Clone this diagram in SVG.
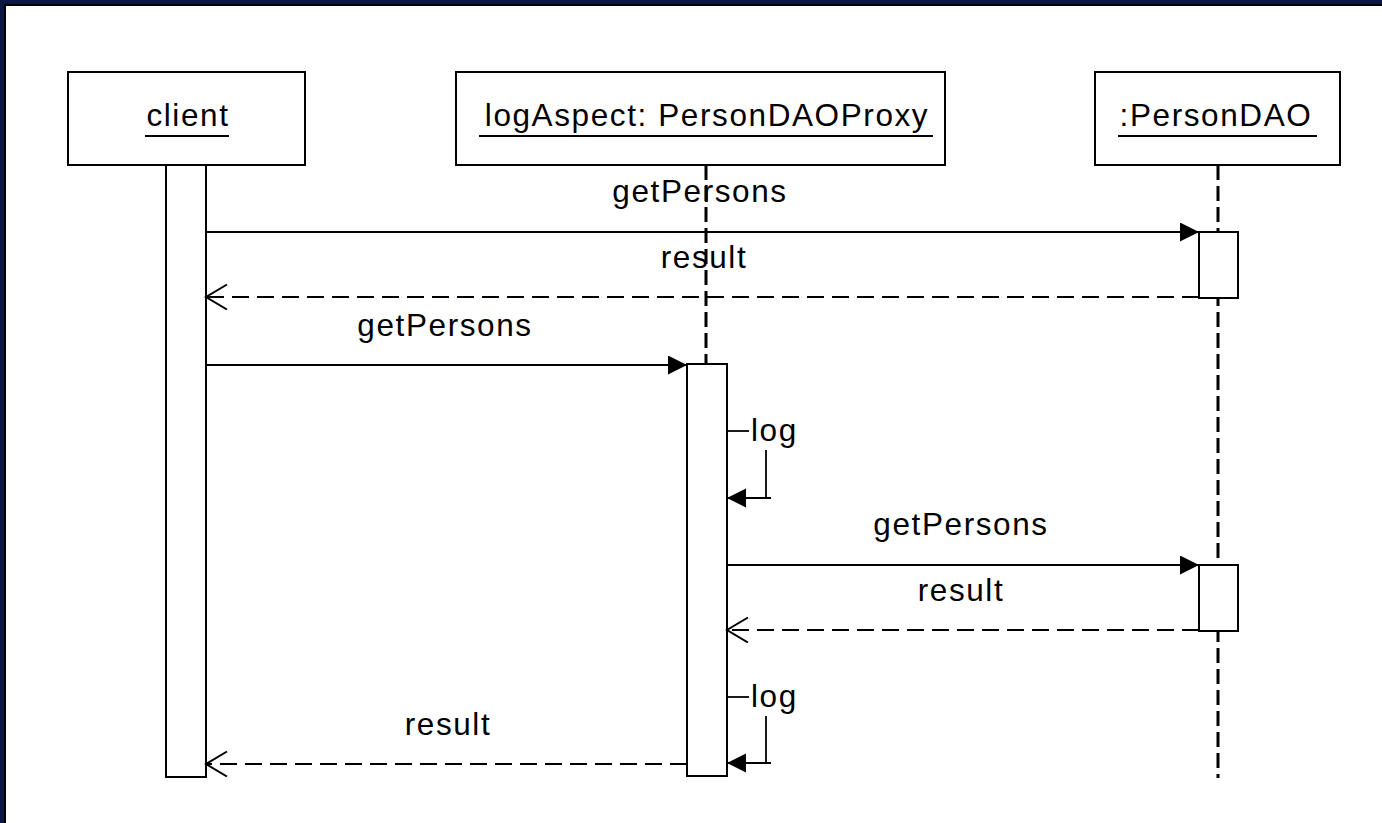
<svg xmlns="http://www.w3.org/2000/svg" width="1382" height="823" viewBox="0 0 1382 823">
  <style>
    .frame { fill: none; stroke: #000; stroke-width: 2; }
    .act { fill: #fff; stroke: #000; stroke-width: 2; }
    .life { fill: none; stroke: #000; stroke-width: 3; stroke-dasharray: 15 6; }
    .call { fill: none; stroke: #000; stroke-width: 1.8; }
    .ret { fill: none; stroke: #000; stroke-width: 2.2; stroke-dasharray: 17 8; }
    .uline { stroke: #000; stroke-width: 2; }
    text { font-family: "Liberation Sans", Arial, sans-serif; font-size: 31.5px; letter-spacing: 1.6px; fill: #000; }
    .mid { text-anchor: middle; }
  </style>
  <defs>
    <marker id="solidHead" markerUnits="userSpaceOnUse" markerWidth="20" markerHeight="20" refX="19" refY="9.5" orient="auto">
      <path d="M0,0 L19,9.5 L0,19 Z" fill="#000"/>
    </marker>
    <marker id="openHead" markerUnits="userSpaceOnUse" markerWidth="24" markerHeight="28" refX="22" refY="13" orient="auto">
      <path d="M1,0.5 L22,13 L1,25.5" fill="none" stroke="#000" stroke-width="2"/>
    </marker>
  </defs>

  <!-- page background and frame edges -->
  <rect x="0" y="0" width="1382" height="823" fill="#fff"/>
  <rect x="0" y="0" width="1382" height="4" fill="#0a1846"/>
  <rect x="0" y="0" width="4" height="823" fill="#0a1846"/>
  <rect x="4" y="4" width="1378" height="2" fill="#000"/>
  <rect x="4" y="4" width="2" height="819" fill="#000"/>

  <!-- lifelines -->
  <g id="lifelines">
    <line class="life" x1="706" y1="165" x2="706" y2="364"/>
    <line class="life" x1="1218" y1="165" x2="1218" y2="778"/>
  </g>

  <g id="client">
    <rect class="frame" x="68" y="72" width="237" height="93" fill="#fff"/>
    <text class="mid" x="188" y="126">client</text>
    <line class="uline" x1="145" y1="136" x2="229" y2="136"/>
    <rect class="act" x="166" y="165" width="40" height="612"/>
  </g>

  <g id="logAspect">
    <rect class="frame" x="456" y="72" width="489" height="93"/>
    <text class="mid" x="707" y="126">logAspect: PersonDAOProxy</text>
    <line class="uline" x1="479" y1="136" x2="933" y2="136"/>
    <rect class="act" x="687" y="364" width="40" height="412"/>
  </g>

  <g id="personDAO">
    <rect class="frame" x="1095" y="72" width="245" height="93"/>
    <text class="mid" x="1216" y="126">:PersonDAO</text>
    <line class="uline" x1="1118" y1="136" x2="1317" y2="136"/>
    <rect class="act" x="1199" y="232" width="39" height="66"/>
    <rect class="act" x="1199" y="565" width="39" height="66"/>
  </g>

  <!-- messages -->
  <g id="connectors">
    <line class="call" x1="206" y1="232" x2="1199" y2="232" marker-end="url(#solidHead)"/>
    <text class="mid" x="700" y="202">getPersons</text>

    <line class="ret" x1="1199" y1="297" x2="206" y2="297" marker-end="url(#openHead)"/>
    <text class="mid" x="704" y="268">result</text>

    <line class="call" x1="206" y1="365" x2="687" y2="365" marker-end="url(#solidHead)"/>
    <text class="mid" x="445" y="336">getPersons</text>

    <line class="call" x1="727" y1="431" x2="749" y2="431"/>
    <text x="751" y="441">log</text>
    <line class="call" x1="766" y1="450" x2="766" y2="498"/>
    <line class="call" x1="771" y1="498" x2="727" y2="498" marker-end="url(#solidHead)"/>

    <line class="call" x1="727" y1="565" x2="1199" y2="565" marker-end="url(#solidHead)"/>
    <text class="mid" x="961" y="535">getPersons</text>

    <line class="ret" x1="1199" y1="630" x2="727" y2="630" marker-end="url(#openHead)"/>
    <text class="mid" x="961" y="601">result</text>

    <line class="call" x1="727" y1="697" x2="749" y2="697"/>
    <text x="751" y="707">log</text>
    <line class="call" x1="766" y1="716" x2="766" y2="763"/>
    <line class="call" x1="771" y1="763" x2="727" y2="763" marker-end="url(#solidHead)"/>

    <line class="ret" x1="687" y1="764" x2="206" y2="764" marker-end="url(#openHead)"/>
    <text class="mid" x="448" y="735">result</text>
  </g>
</svg>
